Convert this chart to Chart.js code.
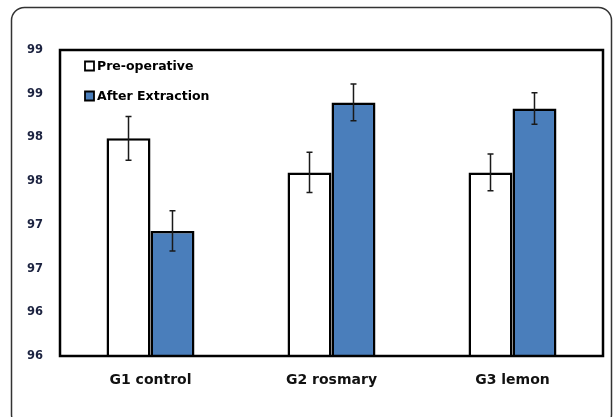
<!DOCTYPE html>
<html>
<head>
<meta charset="utf-8">
<script src="https://cdn.jsdelivr.net/npm/chart.js@4.4.1/dist/chart.umd.min.js"></script>
<style>
  html, body { margin: 0; padding: 0; background: #ffffff; }
  #wrap { width: 613px; height: 417px; position: relative; }
</style>
</head>
<body>
<div id="wrap"><canvas id="c" width="613" height="417"></canvas></div>
<script>
// ---- data ----
const categories = ['G1 control', 'G2 rosmary', 'G3 lemon'];
const seriesNames = ['Pre-operative', 'After Extraction'];
const preOperative = [98.29, 97.90, 97.90];
const afterExtraction = [97.23, 98.70, 98.63];
const preOperativeErr = [0.25, 0.23, 0.21];
const afterExtractionErr = [0.23, 0.21, 0.18];
const yMin = 95.8;
const yMax = 99.3;
const yStep = 0.5;
const yTickLabels = ['96', '96', '97', '97', '98', '98', '99', '99'];

const FONT = '"DejaVu Sans", sans-serif';

const framePlugin = {
  id: 'frame',
  beforeDraw(chart) {
    const ctx = chart.ctx;
    ctx.save();
    ctx.fillStyle = '#ffffff';
    ctx.fillRect(0, 0, chart.width, chart.height);
    ctx.strokeStyle = '#333333';
    ctx.lineWidth = 1.5;
    const x = 11.5, y = 7.5, w = 600, h = 420, r = 13;
    ctx.beginPath();
    ctx.moveTo(x + r, y);
    ctx.lineTo(x + w - r, y);
    ctx.arcTo(x + w, y, x + w, y + r, r);
    ctx.lineTo(x + w, y + h - r);
    ctx.arcTo(x + w, y + h, x + w - r, y + h, r);
    ctx.lineTo(x + r, y + h);
    ctx.arcTo(x, y + h, x, y + h - r, r);
    ctx.lineTo(x, y + r);
    ctx.arcTo(x, y, x + r, y, r);
    ctx.closePath();
    ctx.stroke();
    ctx.restore();
  },
  afterDatasetsDraw(chart) {
    const ctx = chart.ctx;
    const a = chart.chartArea;
    ctx.save();
    ctx.strokeStyle = '#000000';
    ctx.lineWidth = 2.5;
    ctx.strokeRect(a.left, a.top, a.right - a.left, a.bottom - a.top);
    ctx.restore();
  }
};

const errorBarPlugin = {
  id: 'errorBars',
  afterDatasetsDraw(chart) {
    const ctx = chart.ctx;
    const yScale = chart.scales.y;
    ctx.save();
    ctx.strokeStyle = '#1a1a1a';
    ctx.lineWidth = 1.5;
    chart.data.datasets.forEach((ds, di) => {
      const meta = chart.getDatasetMeta(di);
      meta.data.forEach((bar, i) => {
        const v = ds.data[i];
        const e = ds.errors[i];
        const yt = yScale.getPixelForValue(v + e);
        const yb = yScale.getPixelForValue(v - e);
        const x = bar.x;
        ctx.beginPath();
        ctx.moveTo(x, yt); ctx.lineTo(x, yb);
        ctx.moveTo(x - 3, yt); ctx.lineTo(x + 3, yt);
        ctx.moveTo(x - 3, yb); ctx.lineTo(x + 3, yb);
        ctx.stroke();
      });
    });
    ctx.restore();
  }
};

const legendPlugin = {
  id: 'innerLegend',
  afterDraw(chart) {
    const ctx = chart.ctx;
    const a = chart.chartArea;
    ctx.save();
    ctx.font = 'bold 12.5px ' + FONT;
    ctx.textBaseline = 'middle';
    ctx.textAlign = 'left';
    chart.data.datasets.forEach((ds, i) => {
      const cy = a.top + 16 + i * 30;
      const bx = a.left + 25;
      ctx.fillStyle = ds.backgroundColor;
      ctx.strokeStyle = '#000000';
      ctx.lineWidth = 1.8;
      ctx.beginPath();
      ctx.rect(bx, cy - 4.5, 9, 9);
      ctx.fill();
      ctx.stroke();
      ctx.fillStyle = '#000000';
      ctx.fillText(ds.label, bx + 12, cy + 0.5);
    });
    ctx.restore();
  }
};

new Chart(document.getElementById('c'), {
  type: 'bar',
  data: {
    labels: categories,
    datasets: [
      {
        label: seriesNames[0],
        data: preOperative,
        errors: preOperativeErr,
        backgroundColor: '#ffffff',
        borderColor: '#000000',
        borderWidth: 2.5,
        borderSkipped: false
      },
      {
        label: seriesNames[1],
        data: afterExtraction,
        errors: afterExtractionErr,
        backgroundColor: '#4a7ebb',
        borderColor: '#000000',
        borderWidth: 2.5,
        borderSkipped: false
      }
    ]
  },
  options: {
    responsive: false,
    animation: false,
    devicePixelRatio: 1,
    layout: { padding: { left: 0, right: 10, top: 50, bottom: 0 } },
    categoryPercentage: 0.486,
    barPercentage: 1.0,
    plugins: {
      legend: { display: false },
      tooltip: { enabled: false }
    },
    scales: {
      x: {
        grid: { display: false, drawTicks: false },
        border: { display: false },
        ticks: {
          color: '#111111',
          padding: 16,
          font: { family: FONT, size: 14, weight: 'bold' }
        },
        afterFit(scale) { scale.height = 61; }
      },
      y: {
        min: yMin,
        max: yMax,
        grid: { display: false, drawTicks: false },
        border: { display: false },
        ticks: {
          stepSize: yStep,
          color: '#1c2340',
          padding: 17,
          font: { family: FONT, size: 11.5, weight: 'bold' },
          callback: function(value, index) { return yTickLabels[index]; }
        },
        afterFit(scale) { scale.width = 60; }
      }
    }
  },
  plugins: [framePlugin, errorBarPlugin, legendPlugin]
});
</script>
</body>
</html>
